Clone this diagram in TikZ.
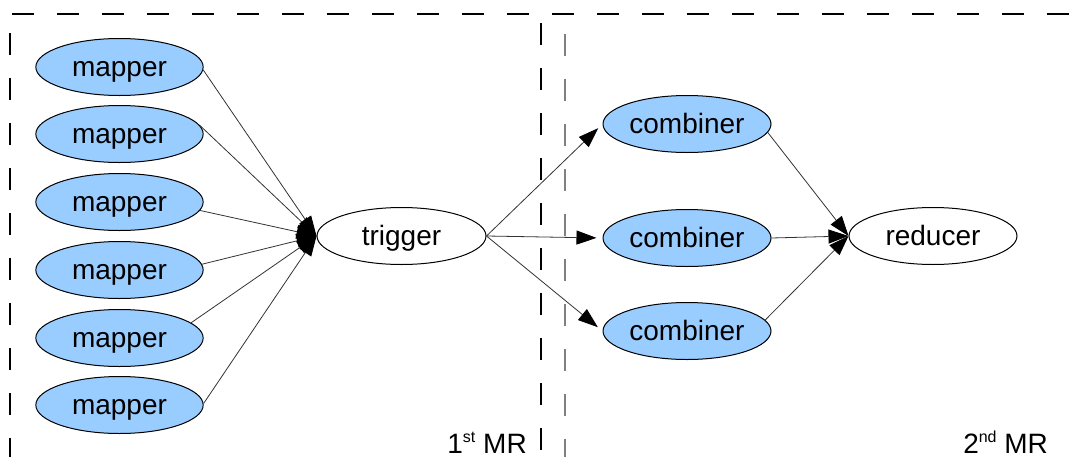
\documentclass[tikz,border=0pt]{standalone}
\usepackage{fontspec}
\setmainfont{Liberation Sans}
\usetikzlibrary{shapes.geometric,arrows.meta}
\definecolor{nodeblue}{RGB}{153,204,255}
\definecolor{dashgray}{RGB}{128,128,128}
\newcommand\mysupr[1]{\raisebox{8pt}{\fontsize{12}{12}\selectfont #1}}
\begin{document}
\begin{tikzpicture}[x=0.75pt,y=-0.75pt,
  nodetext/.style={font=\fontsize{21}{25}\selectfont},
  oval/.style={ellipse,draw=black,line width=0.75pt,inner sep=0pt,
    text height=19pt,text depth=4.45pt,
    minimum width=125.5pt,minimum height=42.75pt,nodetext},
  blueoval/.style={oval,fill=nodeblue},
  whiteoval/.style={oval,fill=white},
  conn/.style={draw=black!80,line width=0.6pt,
    -{Triangle[length=15pt,width=10.5pt,color=black]}},
  frame/.style={draw=black,line width=0.8pt,dash pattern=on 16.5pt off 17.25pt},
  label/.style={nodetext,inner sep=0pt}]
\useasboundingbox (0,0) rectangle (1086,457);
% frame lines
\coordinate (tl) at (12,14);
\coordinate (tr) at (1086,14);
\coordinate (lt) at (10,33);
\coordinate (lb) at (10,457);
\coordinate (m1t) at (541,23);
\coordinate (m1b) at (541,457);
\coordinate (m2t) at (565,34);
\coordinate (m2b) at (565,457);
\draw[frame] (tl) -- (tr);
\draw[frame] (lt) -- (lb);
\draw[frame] (m1t) -- (m1b);
\draw[frame,draw=dashgray] (m2t) -- (m2b);
% nodes
\node[blueoval] (m1) at (119.5,67) {mapper};
\node[blueoval] (m2) at (119.5,134) {mapper};
\node[blueoval] (m3) at (119.5,202) {mapper};
\node[blueoval] (m4) at (119.5,270) {mapper};
\node[blueoval] (m5) at (119.5,338) {mapper};
\node[blueoval] (m6) at (119.5,405) {mapper};
\node[whiteoval,minimum width=126.75pt] (trig) at (401.5,236) {trigger};
\node[blueoval,minimum width=126pt] (c1) at (687,124) {combiner};
\node[blueoval,minimum width=126pt] (c2) at (687,238) {combiner};
\node[blueoval,minimum width=126pt] (c3) at (687,331) {combiner};
\node[whiteoval,minimum width=126pt] (red) at (933,236) {reducer};
% connectors
\draw[conn] (m1.-2) -- (trig.west);
\draw[conn] (m2.6) -- (trig.west);
\draw[conn] (m3.-6) -- (trig.west);
\draw[conn] (m4.4) -- (trig.west);
\draw[conn] (m5.12) -- (trig.west);
\draw[conn] (m6.1) -- (trig.west);
\draw[conn,shorten >=4.5pt] (trig.east) -- (c1.west);
\draw[conn,shorten >=4.5pt] (trig.east) -- (c2.west);
\draw[conn,shorten >=4.5pt] (trig.east) -- (c3.west);
\draw[conn] (c1.-6) -- (red.west);
\draw[conn] (c2.east) -- (red.west);
\draw[conn] (c3.8) -- (red.west);
% labels
\node[label,anchor=base east] (l1) at (527,453) {1\mysupr{st} MR};
\node[label,anchor=base west] (l2) at (963,453) {2\mysupr{nd} MR};
\end{tikzpicture}
\end{document}
